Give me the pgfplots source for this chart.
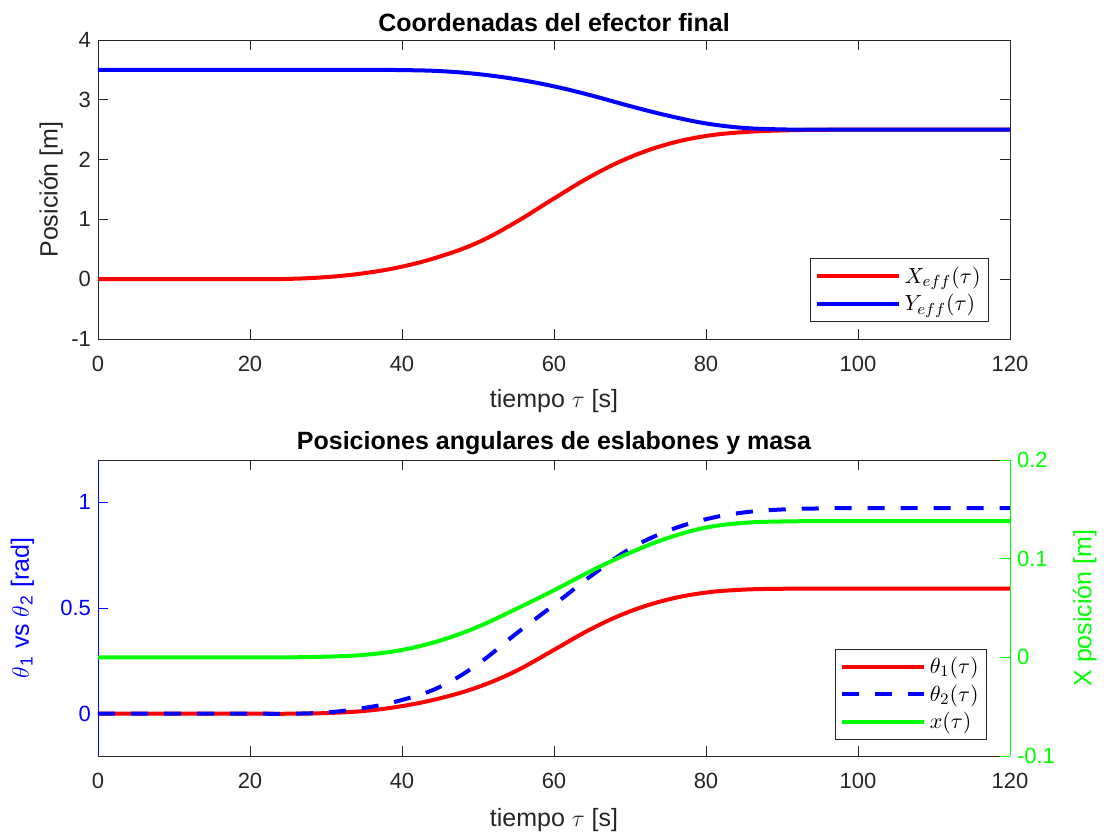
\documentclass[border=0pt]{standalone}
\usepackage{fontspec}
\setmainfont{Liberation Sans}
\usepackage{pgfplots}
\pgfplotsset{compat=1.18}
\definecolor{axgray}{rgb}{0.15,0.15,0.15}
\definecolor{mgreen}{rgb}{0,1,0}
\begin{document}
\begin{tikzpicture}
\pgfplotsset{
  every axis/.append style={
    scale only axis, width=456pt,
    enlargelimits=false,
    tick align=inside, major tick length=5pt,
    /pgf/number format/assume math mode=true,
    tick label style={font=\fontsize{11}{13}\selectfont, text=axgray},
    xticklabel style={yshift=-5pt},
    label style={font=\fontsize{12.5}{14}\selectfont},
    title style={font=\bfseries\fontsize{12.5}{14}\selectfont},
    every axis title shift=0pt,
    legend cell align=left,
    legend style={font=\fontsize{11}{13}\selectfont, draw=axgray, line width=0.5pt, inner sep=2pt, row sep=0pt},
    legend image code/.code={\draw[#1] (0pt,0pt) -- (41pt,0pt);},
  },
}
% ---------- top axis ----------
\begin{axis}[
  at={(49pt,-169.5pt)}, anchor=south west,
  height=149.5pt,
  xmin=0, xmax=120, ymin=-1, ymax=4,
  xtick={0,20,...,120}, ytick={-1,0,...,4},
  axis line style={axgray, line width=0.4pt},
  tick style={axgray, line width=0.4pt},
  title={Coordenadas del efector final},
  title style={at={(axis description cs:0.5,1.06)}, anchor=center},
  xlabel={tiempo $\tau$ [s]},
  xlabel style={at={(axis description cs:0.5,-0.207)}, anchor=center, text=axgray},
  ylabel={Posición [m]},
  ylabel style={at={(axis description cs:-0.0515,0.5)}, anchor=center, rotate=0, text=axgray},
  legend style={at={(axis description cs:0.977,0.057)}, anchor=south east},
]
\addplot[red, line width=2pt, smooth, tension=0.65] coordinates {
(0,0) (20,0) (25,0.005) (30,0.035) (35,0.10) (40,0.21) (45,0.38) (50,0.615) (55,0.955) (60,1.35) (65,1.73) (70,2.04) (75,2.26) (80,2.395) (85,2.46) (90,2.488) (95,2.498) (100,2.5) (120,2.5)};
\addlegendentry{$X_{eff}(\tau)$}
\addplot[blue, line width=2pt, smooth, tension=0.65] coordinates {
(0,3.5) (30,3.5) (35,3.5) (40,3.497) (45,3.48) (50,3.43) (55,3.345) (60,3.225) (65,3.07) (70,2.895) (75,2.735) (80,2.605) (85,2.53) (90,2.505) (95,2.5) (100,2.5) (120,2.5)};
\addlegendentry{$Y_{eff}(\tau)$}
\end{axis}
% ---------- bottom axis (left) ----------
\begin{axis}[
  at={(49pt,-378pt)}, anchor=south west,
  height=148pt,
  xmin=0, xmax=120, ymin=-0.2, ymax=1.2,
  xtick={0,20,...,120}, ytick={0,0.5,1},
  axis x line*=box, axis y line*=left,
  x axis line style={axgray, line width=0.4pt, -},
  y axis line style={blue, line width=0.4pt, -},
  xtick pos=both, ytick pos=left,
  x tick style={axgray, line width=0.4pt},
  y tick style={blue, line width=0.4pt},
  yticklabel style={text=blue},
  title={Posiciones angulares de eslabones y masa},
  title style={at={(axis description cs:0.5,1.057)}, anchor=center},
  xlabel={tiempo $\tau$ [s]},
  xlabel style={at={(axis description cs:0.5,-0.216)}, anchor=center, text=axgray},
  ylabel={$\theta$\textsubscript{1} vs $\theta$\textsubscript{2} [rad]},
  ylabel style={at={(axis description cs:-0.083,0.5)}, anchor=center, rotate=0, text=blue},
  legend style={at={(axis description cs:0.975,0.054)}, anchor=south east},
]
\addplot[red, line width=2pt, smooth, tension=0.65] coordinates {
(0,0) (20,0) (25,0) (30,0.003) (35,0.013) (40,0.036) (45,0.073) (50,0.126) (55,0.202) (60,0.302) (65,0.403) (70,0.484) (75,0.54) (80,0.573) (85,0.587) (90,0.591) (95,0.592) (100,0.592) (120,0.592)};
\addlegendentry{$\theta_1(\tau)$}
\addplot[blue, line width=2pt, dash pattern=on 8.5pt off 8pt, smooth, tension=0.65] coordinates {
(0,0) (20,0) (25,0) (30,0.006) (35,0.027) (40,0.065) (45,0.127) (50,0.235) (55,0.378) (60,0.515) (65,0.655) (70,0.78) (75,0.865) (80,0.92) (85,0.952) (90,0.966) (95,0.971) (100,0.972) (120,0.972)};
\addlegendentry{$\theta_2(\tau)$}
\addlegendimage{mgreen, line width=2pt}
\addlegendentry{$x(\tau)$}
\end{axis}
% ---------- bottom axis (right) ----------
\begin{axis}[
  at={(49pt,-378pt)}, anchor=south west,
  height=148pt,
  xmin=0, xmax=120, ymin=-0.1, ymax=0.2,
  ytick={-0.1,0,0.1,0.2},
  axis x line=none, axis y line*=right,
  y axis line style={mgreen, line width=0.4pt, -},
  ytick pos=right,
  y tick style={mgreen, line width=0.4pt},
  yticklabel style={text=mgreen},
  ylabel={X posición [m]},
  ylabel style={at={(axis description cs:1.082,0.5)}, anchor=center, rotate=0, text=mgreen},
]
\addplot[mgreen, line width=2pt, smooth, tension=0.65] coordinates {
(0,0) (20,0) (25,0) (30,0.0007) (35,0.0025) (40,0.0075) (45,0.017) (50,0.031) (55,0.049) (60,0.068) (65,0.088) (70,0.106) (75,0.121) (80,0.1315) (85,0.1363) (90,0.1377) (95,0.138) (100,0.138) (120,0.138)};
\end{axis}
\pgfresetboundingbox
\useasboundingbox (0,0) rectangle (552pt,-417.5pt);
\end{tikzpicture}
\end{document}
